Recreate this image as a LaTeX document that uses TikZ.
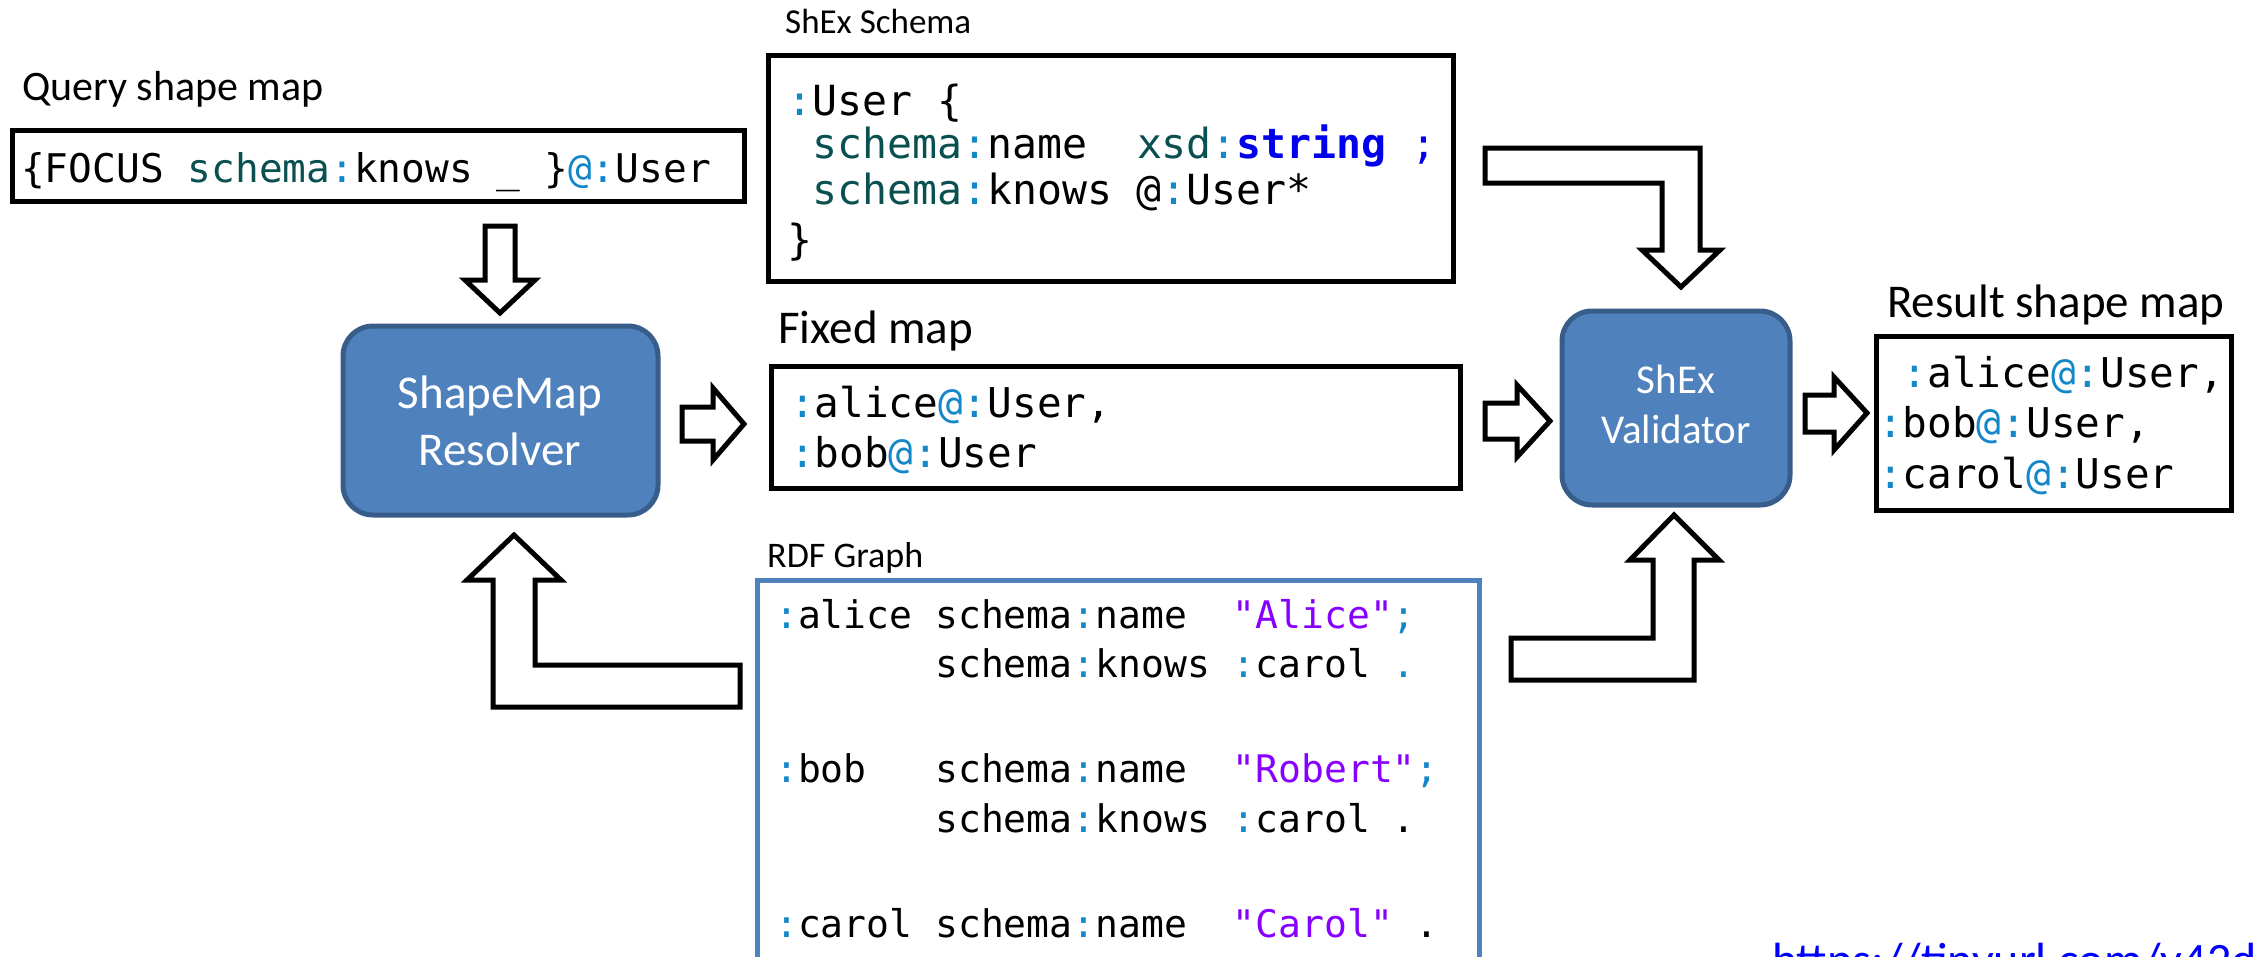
\documentclass[tikz,border=0pt]{standalone}
\usepackage{fontspec}
\setmainfont{Carlito}
\newfontfamily\codefont{DejaVu Sans Mono}
\definecolor{ncolon}{RGB}{20,135,200}
\definecolor{nprefix}{RGB}{10,80,80}
\definecolor{nstring}{RGB}{135,0,255}
\definecolor{ntype}{RGB}{0,0,235}
\definecolor{procfill}{RGB}{79,129,189}
\definecolor{procborder}{RGB}{56,93,138}
\definecolor{graphborder}{RGB}{79,129,189}
\definecolor{linkblue}{RGB}{0,0,255}
% token colours for the code snippets
\newcommand\kc[1]{\textcolor{ncolon}{#1}}
\newcommand\kp[1]{\textcolor{nprefix}{#1}}
\newcommand\ks[1]{\textcolor{nstring}{#1}}
\newcommand\kt[1]{\textcolor{ntype}{\bfseries #1}}
\begin{document}
\begin{tikzpicture}[x=1pt,y=-1pt,
  framebox/.style={draw=black, line width=5pt, rectangle, outer sep=0pt, inner sep=0pt, anchor=north west},
  graphbox/.style={framebox, draw=graphborder},
  procbox/.style={draw=procborder, fill=procfill, line width=5pt, rectangle, rounded corners=30pt, outer sep=0pt, inner sep=0pt, anchor=north west},
  proctext/.style={anchor=base, inner sep=0pt, text=white},
  lbl/.style={anchor=base west, inner sep=0pt},
  code/.style={anchor=base west, inner sep=0pt, font=\codefont\fontsize{#1}{48}\selectfont},
  code/.default=41,
  blockarrow/.style={draw=black, fill=white, line width=5pt, line join=miter},
]
\useasboundingbox (0,0) rectangle (2254,956);
\clip (0,0) rectangle (2254,956);

% ---- frames ----
\node[framebox, minimum width=732pt, minimum height=71pt] (query) at (12,130) {};
\node[framebox, minimum width=685pt, minimum height=226pt] (schema) at (768,55) {};
\node[framebox, minimum width=689pt, minimum height=122pt] (fixed) at (771,366) {};
\node[framebox, minimum width=355pt, minimum height=174pt] (result) at (1876,336) {};
\node[graphbox, minimum width=722pt, minimum height=450pt] (rdf) at (757,580) {};
\node[procbox, minimum width=315pt, minimum height=189pt] (resolver) at (343,326) {};
\node[procbox, minimum width=228pt, minimum height=194pt] (validator) at (1562,311) {};

% ---- titles ----
\node[lbl, font=\fontsize{42}{50}\selectfont] (lquery) at (22,100) {Query shape map};
\node[lbl, font=\fontsize{35}{42}\selectfont] (lschema) at (785,33) {ShEx Schema};
\node[lbl, font=\fontsize{47}{56}\selectfont] (lfixed) at (778,343) {Fixed map};
\node[lbl, font=\fontsize{47}{56}\selectfont] (lresult) at (1887,317) {Result shape map};
\node[lbl, font=\fontsize{36}{43}\selectfont] (lrdf) at (767,567) {RDF Graph};

% ---- process labels ----
\node[proctext, font=\fontsize{47}{56}\selectfont] (res1) at (500,408) {ShapeMap};
\node[proctext, font=\fontsize{47}{56}\selectfont] (res2) at (500,465) {Resolver};
\node[proctext, font=\fontsize{41}{50}\selectfont] (val1) at (1676,393) {ShEx};
\node[proctext, font=\fontsize{41}{50}\selectfont] (val2) at (1676,443) {Validator};

% ---- query shape map ----
\node[code=39.5] (q1) at (21,182) {\{FOCUS \kp{schema}\kc{:}knows \_ \}\kc{@:}User};

% ---- schema ----
\node[code=41.5] (s1) at (787,115) {\kc{:}User \{};
\node[code=41.5] (s2) at (787,158) {~\kp{schema}\kc{:}name~~\kp{xsd}\kc{:}\kt{string}~\textcolor{ntype}{;}};
\node[code=41.5] (s3) at (787,204) {~\kp{schema}\kc{:}knows @\kc{:}User*};
\node[code=41.5] (s4) at (787,254) {\}};

% ---- fixed map ----
\node[code] (f1) at (790,417) {\kc{:}alice\kc{@:}User,};
\node[code] (f2) at (790,467) {\kc{:}bob\kc{@:}User};

% ---- result shape map ----
\node[code] (o1) at (1878,387) {~\kc{:}alice\kc{@:}User,};
\node[code] (o2) at (1878,437) {\kc{:}bob\kc{@:}User,};
\node[code] (o3) at (1878,488) {\kc{:}carol\kc{@:}User};

% ---- RDF graph ----
\node[code=38] (g1) at (775,628) {\kc{:}alice schema\kc{:}name~~\ks{"Alice"}\kc{;}};
\node[code=38] (g2) at (775,677) {~~~~~~~schema\kc{:}knows \kc{:}carol \kc{.}};
\node[code=38] (g4) at (775,782) {\kc{:}bob~~~schema\kc{:}name~~\ks{"Robert"}\kc{;}};
\node[code=38] (g5) at (775,832) {~~~~~~~schema\kc{:}knows \kc{:}carol .};
\node[code=38] (g7) at (775,937) {\kc{:}carol schema\kc{:}name~~\ks{"Carol"} .};

% ---- block arrows ----
% query -> resolver
\draw[blockarrow] (485,226) -- (515,226) -- (515,280) -- (535,280) -- (500,313) -- (465,280) -- (485,280) -- cycle;
% rdf -> resolver
\draw[blockarrow] (514,535) -- (561,580) -- (535,580) -- (535,665) -- (740,665) -- (740,707) -- (493,707) -- (493,580) -- (467,580) -- cycle;
% resolver -> fixed map
\draw[blockarrow] (682,407) -- (713,407) -- (713,388) -- (744,424) -- (713,460) -- (713,441) -- (682,441) -- cycle;
% fixed map -> validator
\draw[blockarrow] (1485,403) -- (1517,403) -- (1517,385) -- (1550,421) -- (1517,457) -- (1517,439) -- (1485,439) -- cycle;
% validator -> result
\draw[blockarrow] (1805,395) -- (1834,395) -- (1834,377) -- (1867,413) -- (1834,450) -- (1834,432) -- (1805,432) -- cycle;
% schema -> validator
\draw[blockarrow] (1485,148) -- (1700,148) -- (1700,250) -- (1720,250) -- (1681,287) -- (1642,250) -- (1662,250) -- (1662,183) -- (1485,183) -- cycle;
% rdf -> validator
\draw[blockarrow] (1674,515) -- (1719,560) -- (1694,560) -- (1694,680) -- (1511,680) -- (1511,638) -- (1653,638) -- (1653,560) -- (1630,560) -- cycle;

% ---- link ----
\node[lbl, font=\fontsize{48}{58}\selectfont, text=linkblue] (url) at (1772,976) {https://tinyurl.com/y42d};
\end{tikzpicture}
\end{document}
